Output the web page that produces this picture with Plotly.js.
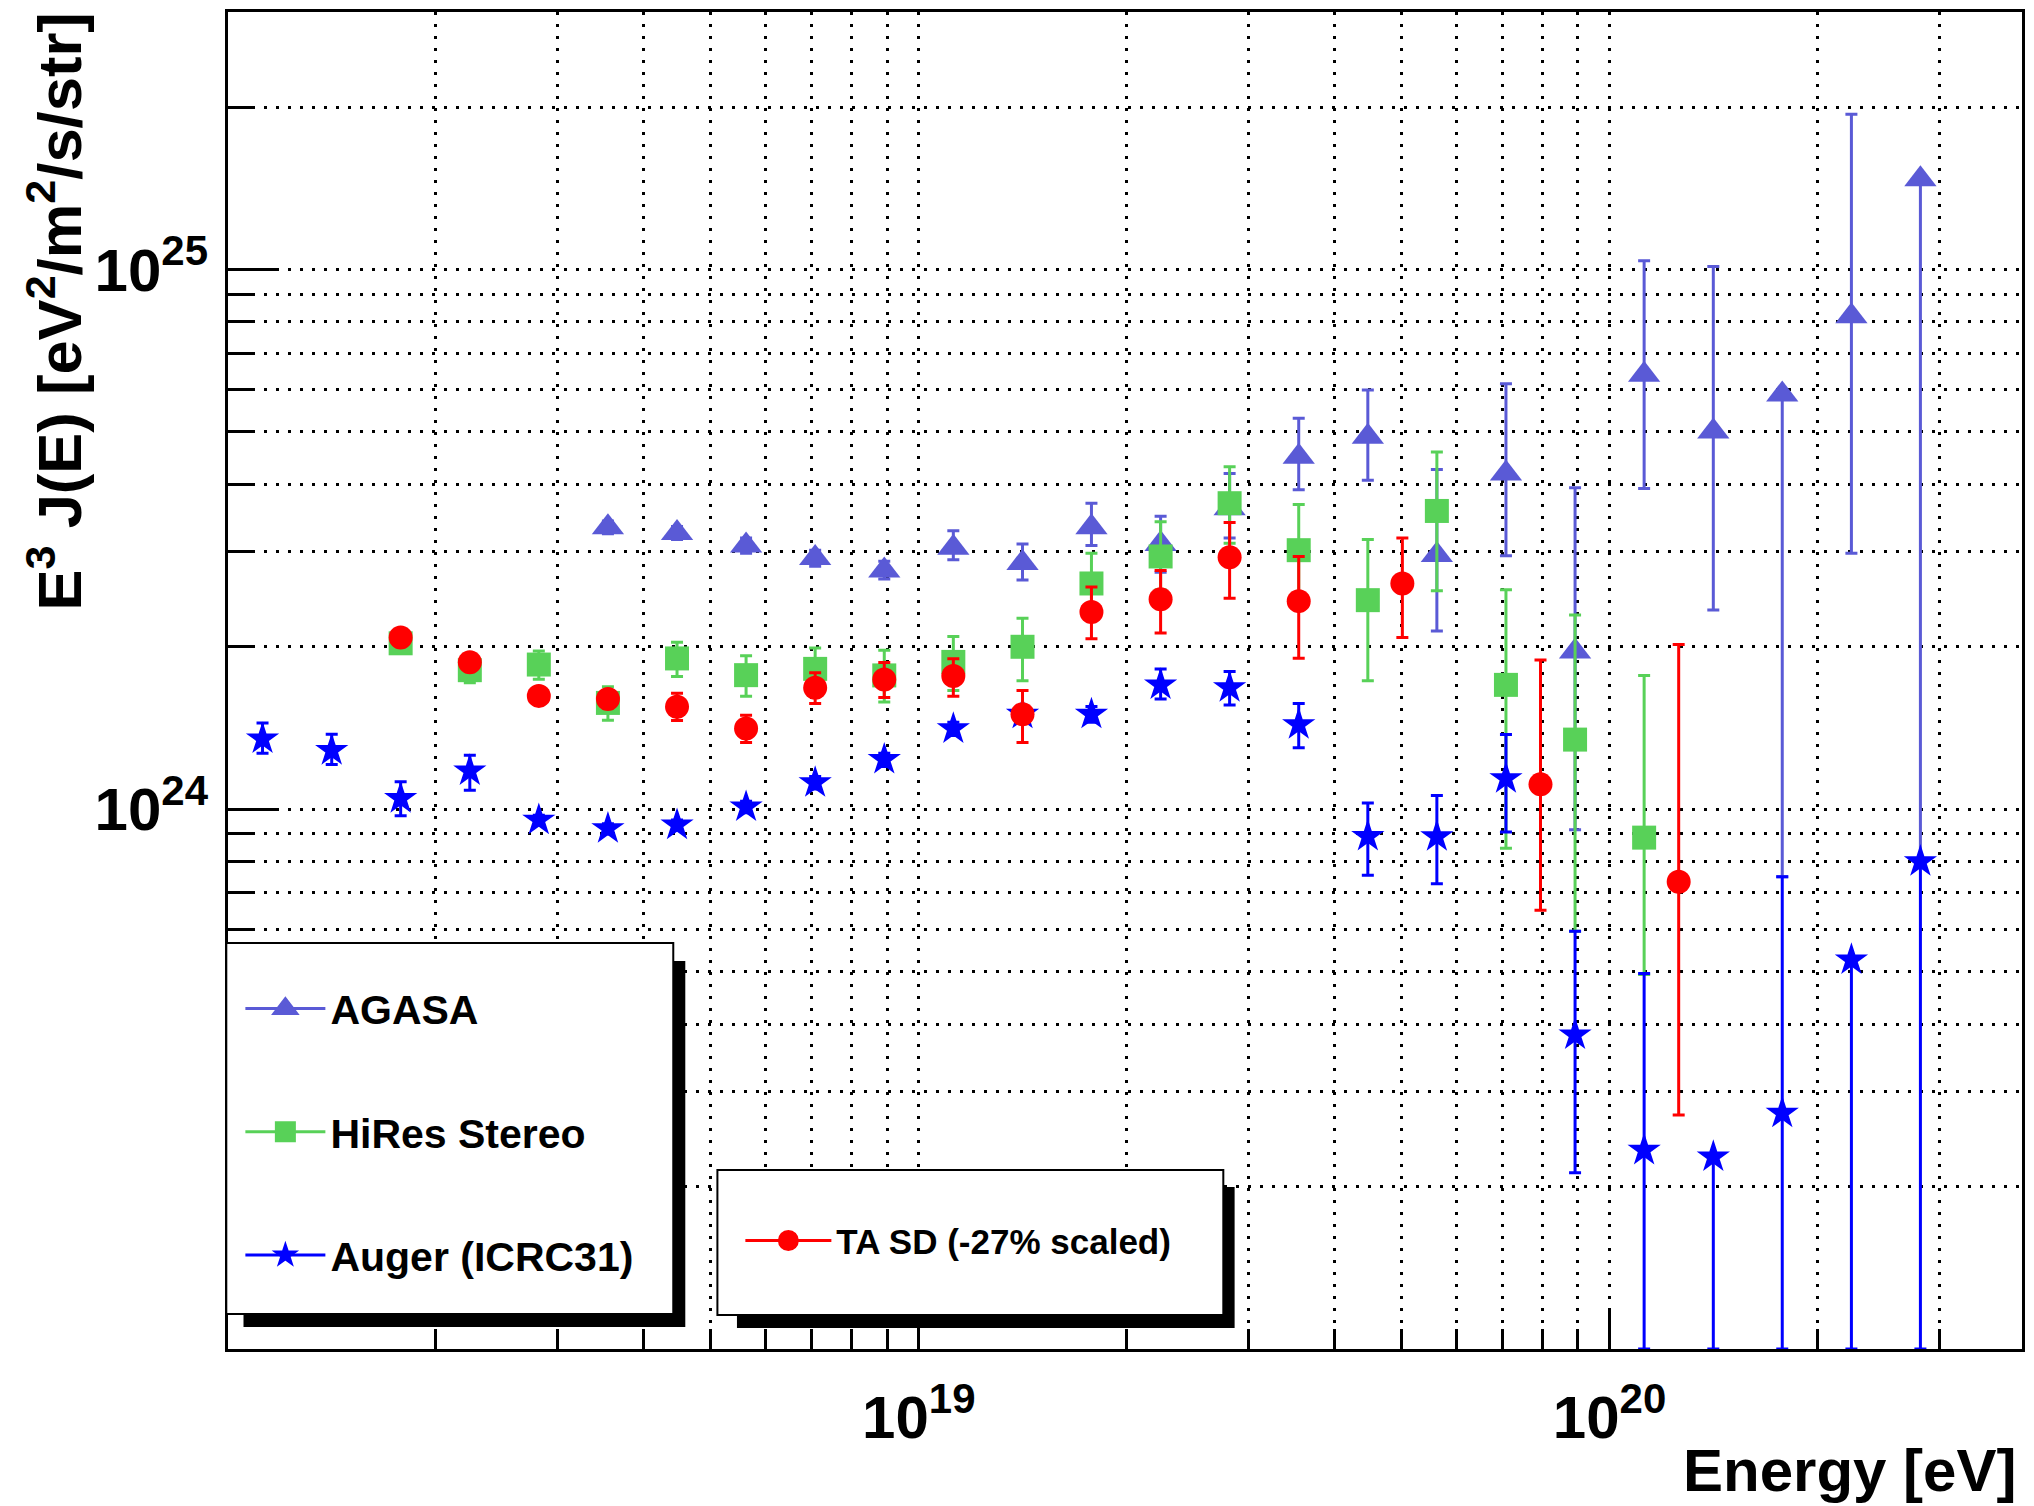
<!DOCTYPE html>
<html><head><meta charset="utf-8">
<script src="https://cdn.plot.ly/plotly-3.0.1.min.js"></script>
<style>html,body{margin:0;padding:0;background:#fff}#chart{width:2034px;height:1506px}</style>
</head><body><div id="chart"></div>
<script>
// ---------------- data ----------------
const agasaE  = [3.548e18, 4.467e18, 5.623e18, 7.079e18, 8.913e18, 1.122e19, 1.413e19, 1.778e19, 2.239e19, 2.818e19, 3.548e19, 4.467e19, 5.623e19, 7.079e19, 8.913e19, 1.122e20, 1.413e20, 1.778e20, 2.239e20, 2.818e20];
const agasaJ  = [3.33e24, 3.25e24, 3.08e24, 2.92e24, 2.77e24, 3.05e24, 2.86e24, 3.33e24, 3.10e24, 3.61e24, 4.50e24, 4.90e24, 2.96e24, 4.19e24, 1.96e24, 6.38e24, 5.01e24, 5.87e24, 8.19e24, 1.47e25];
const agasaHi = [3.42e24, 3.34e24, 3.18e24, 3.02e24, 2.88e24, 3.28e24, 3.10e24, 3.69e24, 3.49e24, 4.19e24, 5.30e24, 5.98e24, 4.26e24, 6.14e24, 3.94e24, 1.038e25, 1.013e25, 5.87e24, 1.94e25, 1.47e25];
const agasaLo = [3.24e24, 3.16e24, 2.98e24, 2.82e24, 2.67e24, 2.90e24, 2.66e24, 3.08e24, 2.75e24, 3.18e24, 3.91e24, 4.07e24, 2.14e24, 2.95e24, 0.916e24, 3.93e24, 2.34e24, 0.75e24, 2.98e24, 0.80e24];

const hiresE  = [1.778e18, 2.239e18, 2.818e18, 3.548e18, 4.467e18, 5.623e18, 7.079e18, 8.913e18, 1.122e19, 1.413e19, 1.778e19, 2.239e19, 2.818e19, 3.548e19, 4.467e19, 5.623e19, 7.079e19, 8.913e19, 1.122e20];
const hiresJ  = [2.03e24, 1.81e24, 1.854e24, 1.574e24, 1.903e24, 1.772e24, 1.82e24, 1.77e24, 1.875e24, 2.00e24, 2.62e24, 2.94e24, 3.69e24, 3.02e24, 2.44e24, 3.57e24, 1.70e24, 1.346e24, 0.886e24];
const hiresHi = [2.10e24, 1.90e24, 1.964e24, 1.686e24, 2.04e24, 1.924e24, 1.99e24, 1.97e24, 2.09e24, 2.26e24, 2.98e24, 3.41e24, 4.31e24, 3.67e24, 3.16e24, 4.59e24, 2.55e24, 2.29e24, 1.77e24];
const hiresLo = [1.96e24, 1.715e24, 1.742e24, 1.462e24, 1.762e24, 1.62e24, 1.66e24, 1.58e24, 1.66e24, 1.73e24, 2.30e24, 2.55e24, 3.11e24, 2.50e24, 1.73e24, 2.54e24, 0.847e24, 0.594e24, 0.494e24];

const augerE  = [1.122e18, 1.413e18, 1.778e18, 2.239e18, 2.818e18, 3.548e18, 4.467e18, 5.623e18, 7.079e18, 8.913e18, 1.122e19, 1.413e19, 1.778e19, 2.239e19, 2.818e19, 3.548e19, 4.467e19, 5.623e19, 7.079e19, 8.913e19, 1.122e20, 1.413e20, 1.778e20, 2.239e20, 2.818e20];
const augerJ  = [1.35e24, 1.285e24, 1.047e24, 1.178e24, 0.955e24, 0.921e24, 0.935e24, 1.01e24, 1.12e24, 1.237e24, 1.41e24, 1.50e24, 1.50e24, 1.70e24, 1.68e24, 1.435e24, 0.891e24, 0.890e24, 1.14e24, 0.382e24, 0.2335e24, 0.227e24, 0.2735e24, 0.526e24, 0.80e24];
const augerHi = [1.445e24, 1.377e24, 1.124e24, 1.259e24, 0.975e24, 0.94e24, 0.955e24, 1.035e24, 1.15e24, 1.27e24, 1.45e24, 1.55e24, 1.55e24, 1.82e24, 1.80e24, 1.57e24, 1.027e24, 1.06e24, 1.376e24, 0.594e24, 0.496e24, 0.227e24, 0.75e24, 0.526e24, 0.80e24];
const augerLo = [1.27e24, 1.21e24, 0.973e24, 1.084e24, 0.935e24, 0.90e24, 0.915e24, 0.985e24, 1.09e24, 1.20e24, 1.37e24, 1.45e24, 1.45e24, 1.60e24, 1.56e24, 1.30e24, 0.755e24, 0.728e24, 0.908e24, 0.212e24, 1e23, 1e23, 1e23, 1e23, 1e23];

const taE  = [1.778e18, 2.239e18, 2.818e18, 3.548e18, 4.467e18, 5.623e18, 7.079e18, 8.913e18, 1.122e19, 1.413e19, 1.778e19, 2.239e19, 2.818e19, 3.548e19, 5.012e19, 7.943e19, 1.259e20];
const taJ  = [2.08e24, 1.873e24, 1.622e24, 1.60e24, 1.549e24, 1.411e24, 1.68e24, 1.74e24, 1.765e24, 1.50e24, 2.32e24, 2.45e24, 2.93e24, 2.43e24, 2.62e24, 1.112e24, 0.734e24];
const taHi = [2.13e24, 1.92e24, 1.67e24, 1.66e24, 1.64e24, 1.494e24, 1.79e24, 1.87e24, 1.90e24, 1.66e24, 2.58e24, 2.77e24, 3.40e24, 2.94e24, 3.18e24, 1.89e24, 2.02e24];
const taLo = [2.03e24, 1.83e24, 1.58e24, 1.54e24, 1.46e24, 1.33e24, 1.57e24, 1.61e24, 1.62e24, 1.33e24, 2.07e24, 2.12e24, 2.46e24, 1.905e24, 2.08e24, 0.650e24, 0.2715e24];

const seriesNames = ['AGASA', 'HiRes Stereo', 'Auger (ICRC31)', 'TA SD (-27% scaled)'];
const xTickVals = [1e19, 1e20];
const xTickText = ['10<sup>19</sup>', '10<sup>20</sup>'];
const yTickVals = [1e24, 1e25];
const yTickText = ['10<sup>24</sup>', '10<sup>25</sup>'];
const xTitle = 'Energy [eV]';
const yTitle = 'E<sup>3</sup> J(E) [eV<sup>2</sup>/m<sup>2</sup>/s/str]';

// ---------------- styling ----------------
const FONT = 'Liberation Sans, Arial, Helvetica, sans-serif';
const C_AGASA = '#5a5ad6', C_HIRES = '#58d158', C_AUGER = '#0000ff', C_TA = '#ff0000';

function errBars(v, hi, lo, color) {
  return {type: 'data', symmetric: false,
    array: hi.map((h, i) => h - v[i]), arrayminus: lo.map((l, i) => v[i] - l),
    color: color, thickness: 3, width: 6};
}
function dataTrace(name, E, J, hi, lo, color, symbol, size) {
  return {type: 'scatter', mode: 'markers', name: name, x: E, y: J, showlegend: false,
    legendgroup: name, marker: {symbol: symbol, size: size, color: color, line: {width: 0}},
    error_y: errBars(J, hi, lo, color), hoverinfo: 'x+y+name'};
}
function legendTrace(name, color, symbol, lw, legendId) {
  return {type: 'scatter', mode: 'lines+markers', name: name, x: [null], y: [null],
    legend: legendId, legendgroup: name, showlegend: true,
    line: {color: color, width: 3},
    marker: {symbol: symbol, size: 16, color: color, line: {color: color, width: lw}}};
}

const traces = [
  dataTrace(seriesNames[0], agasaE, agasaJ, agasaHi, agasaLo, C_AGASA, 'triangle-up', 28),
  dataTrace(seriesNames[1], hiresE, hiresJ, hiresHi, hiresLo, C_HIRES, 'square', 24),
  dataTrace(seriesNames[2], augerE, augerJ, augerHi, augerLo, C_AUGER, 'star', 25),
  dataTrace(seriesNames[3], taE, taJ, taHi, taLo, C_TA, 'circle', 24),
  legendTrace(seriesNames[0], C_AGASA, 'triangle-up', 5, 'legend'),
  legendTrace(seriesNames[1], C_HIRES, 'square', 5, 'legend'),
  legendTrace(seriesNames[2], C_AUGER, 'star', 2, 'legend'),
  legendTrace(seriesNames[3], C_TA, 'circle', 5, 'legend2')
];

const gridStyle = {showgrid: true, gridcolor: 'black', gridwidth: 3, griddash: '3px,9px'};
const tickFont = {family: FONT, size: 60, weight: 'bold', color: 'black'};

const layout = {
  width: 2034, height: 1506,
  margin: {l: 228, r: 12, t: 12, b: 157, pad: 0},
  paper_bgcolor: 'white', plot_bgcolor: 'white',
  font: {family: FONT, color: 'black'},
  showlegend: true,
  xaxis: Object.assign({
    type: 'log', range: [18, 20.597], autorange: false,
    showline: true, mirror: true, linecolor: 'black', linewidth: 3, zeroline: false,
    tickmode: 'array', tickvals: xTickVals, ticktext: xTickText,
    ticks: 'inside', ticklen: 40, tickwidth: 3, tickcolor: 'black',
    tickfont: tickFont, ticklabelstandoff: 14,
    minor: Object.assign({dtick: 'D1', ticks: 'inside', ticklen: 20, tickwidth: 3, tickcolor: 'black'}, gridStyle)
  }, gridStyle),
  yaxis: Object.assign({
    type: 'log', range: [23, 25.4771], autorange: false,
    showline: true, mirror: true, linecolor: 'black', linewidth: 3, zeroline: false,
    tickmode: 'array', tickvals: yTickVals, ticktext: yTickText,
    ticks: 'inside', ticklen: 51, tickwidth: 3, tickcolor: 'black',
    tickfont: tickFont, ticklabelstandoff: 5,
    minor: Object.assign({dtick: 'D1', ticks: 'inside', ticklen: 26, tickwidth: 3, tickcolor: 'black'}, gridStyle)
  }, gridStyle),
  legend: {
    x: 0.0069, y: 0.2795, xanchor: 'left', yanchor: 'top',
    bgcolor: 'rgba(0,0,0,0)', borderwidth: 0,
    font: {family: FONT, size: 41, weight: 'bold', color: 'black'},
    itemwidth: 80, traceorder: 'grouped', tracegroupgap: 67, itemclick: false
  },
  legend2: {
    x: 0.2856, y: 0.103, xanchor: 'left', yanchor: 'top',
    bgcolor: 'rgba(0,0,0,0)', borderwidth: 0,
    font: {family: FONT, size: 35, weight: 'bold', color: 'black'},
    itemwidth: 86, itemclick: false
  },
  shapes: [
    {type: 'rect', xref: 'paper', yref: 'paper', x0: 0.00864, x1: 0.2549, y0: 0.01645, y1: 0.2902,
      fillcolor: 'black', line: {width: 0}, layer: 'above'},
    {type: 'rect', xref: 'paper', yref: 'paper', x0: -0.00095, x1: 0.2482, y0: 0.02618, y1: 0.30367,
      fillcolor: 'white', line: {color: 'black', width: 2}, layer: 'above'},
    {type: 'rect', xref: 'paper', yref: 'paper', x0: 0.2837, x1: 0.5611, y0: 0.0157, y1: 0.1212,
      fillcolor: 'black', line: {width: 0}, layer: 'above'},
    {type: 'rect', xref: 'paper', yref: 'paper', x0: 0.2728, x1: 0.5548, y0: 0.02543, y1: 0.1339,
      fillcolor: 'white', line: {color: 'black', width: 2}, layer: 'above'}
  ],
  annotations: [
    {text: xTitle, xref: 'paper', yref: 'paper', x: 0.9979, y: -0.0912, xanchor: 'right', yanchor: 'middle',
      showarrow: false, font: {family: FONT, size: 60, weight: 'bold', color: 'black'}},
    {text: yTitle, xref: 'paper', yref: 'paper', x: -0.0962, y: 1.0015, xanchor: 'center', yanchor: 'top',
      textangle: -90, showarrow: false, font: {family: FONT, size: 61.5, weight: 'bold', color: 'black'}}
  ]
};

Plotly.newPlot('chart', traces, layout, {displayModeBar: false, staticPlot: true});
</script>
</body></html>
